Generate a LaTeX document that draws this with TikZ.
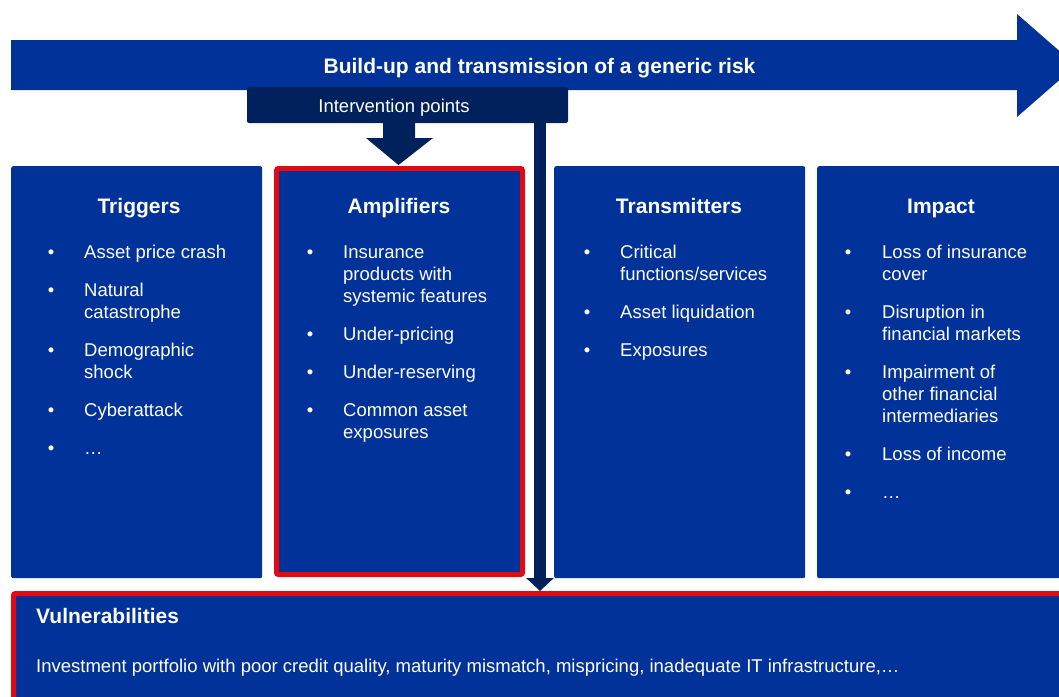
\documentclass[tikz,border=0pt]{standalone}
\usepackage{fontspec}
\setmainfont{Liberation Sans}
\usepackage{xcolor}
\usetikzlibrary{arrows.meta}
\definecolor{ecbblue}{RGB}{0,50,153}
\definecolor{ecbnavy}{RGB}{0,33,91}
\definecolor{ecbred}{RGB}{225,10,18}
\tikzset{
  panel/.style={fill=ecbblue, rounded corners=2pt, anchor=north west, inner sep=0pt,
    minimum width=251pt, minimum height=412pt},
  hot/.style={panel, draw=ecbred, line width=5pt, minimum width=246pt, minimum height=406pt},
  head/.style={text=white, font=\fontsize{21}{25}\selectfont\bfseries, anchor=base, inner sep=0pt},
  item/.style={text=white, font=\fontsize{18.5}{22}\selectfont, anchor=base west, inner sep=0pt},
  dot/.style={item, anchor=base},
}
\begin{document}
\begin{tikzpicture}[x=1pt,y=-1pt]
\clip (0,0) rectangle (1059,696);
\fill[ecbblue] (11,40) -- (1017,40) -- (1017,14) -- (1076,65.5) -- (1017,117) -- (1017,90) -- (11,90) -- cycle;
\node[head] (risk) at (539.5,73) {Build-up and transmission of a generic risk};
\fill[ecbnavy, rounded corners=2pt] (247,87) rectangle (568,123);
\node[item, anchor=base] (interv) at (394,112) {Intervention points};
\fill[ecbnavy] (383,122) -- (415,122) -- (415,138) -- (433,138) -- (398.5,165) -- (366,138) -- (383,138) -- cycle;
\node[panel] (trig) at (11,166) {};
\node[hot] (ampl) at (274,166) {};
\node[panel] (trans) at (554,166) {};
\node[panel] (imp) at (817,166) {};
\node[hot, minimum width=1060pt, minimum height=120pt] (vuln) at (11,591) {};
\coordinate (drop) at (540,123);
\draw[ecbnavy, line width=12pt, -{Triangle[width=27pt,length=13pt]}] (drop) -- (drop |- vuln.north);
\node[head] (trigt) at (139,213) {Triggers};
\node[head] (amplt) at (399,213) {Amplifiers};
\node[head] (transt) at (679,213) {Transmitters};
\node[head] (impt) at (941,213) {Impact};
\foreach \y [count=\i] in {258,296,356,416,454}
  \node[dot] (trigb\i) at (51,\y) {•};
\foreach \y/\t [count=\i] in {258/Asset price crash, 296/Natural, 318/catastrophe,
    356/Demographic, 378/shock, 416/Cyberattack, 454/…}
  \node[item] (trig\i) at (84,\y) {\t};
\foreach \y [count=\i] in {258,340,378,416}
  \node[dot] (amplb\i) at (310,\y) {•};
\foreach \y/\t [count=\i] in {258/Insurance, 280/products with, 302/systemic features,
    340/Under-pricing, 378/Under-reserving, 416/Common asset, 438/exposures}
  \node[item] (ampl\i) at (343,\y) {\t};
\foreach \y [count=\i] in {258,318,356}
  \node[dot] (transb\i) at (587,\y) {•};
\foreach \y/\t [count=\i] in {258/Critical, 280/{functions/services},
    318/Asset liquidation, 356/Exposures}
  \node[item] (trans\i) at (620,\y) {\t};
\foreach \y [count=\i] in {258,318,378,460,498}
  \node[dot] (impb\i) at (848,\y) {•};
\foreach \y/\t [count=\i] in {258/Loss of insurance, 280/cover, 318/Disruption in,
    340/financial markets, 378/Impairment of, 400/other financial, 422/intermediaries,
    460/Loss of income, 498/…}
  \node[item] (imp\i) at (882,\y) {\t};
\node[head, anchor=base west] (vulnt) at (36,623) {Vulnerabilities};
\node[item] (vulnx) at (36,672) {Investment portfolio with poor credit quality, maturity mismatch, mispricing, inadequate IT infrastructure,…};
\end{tikzpicture}
\end{document}
